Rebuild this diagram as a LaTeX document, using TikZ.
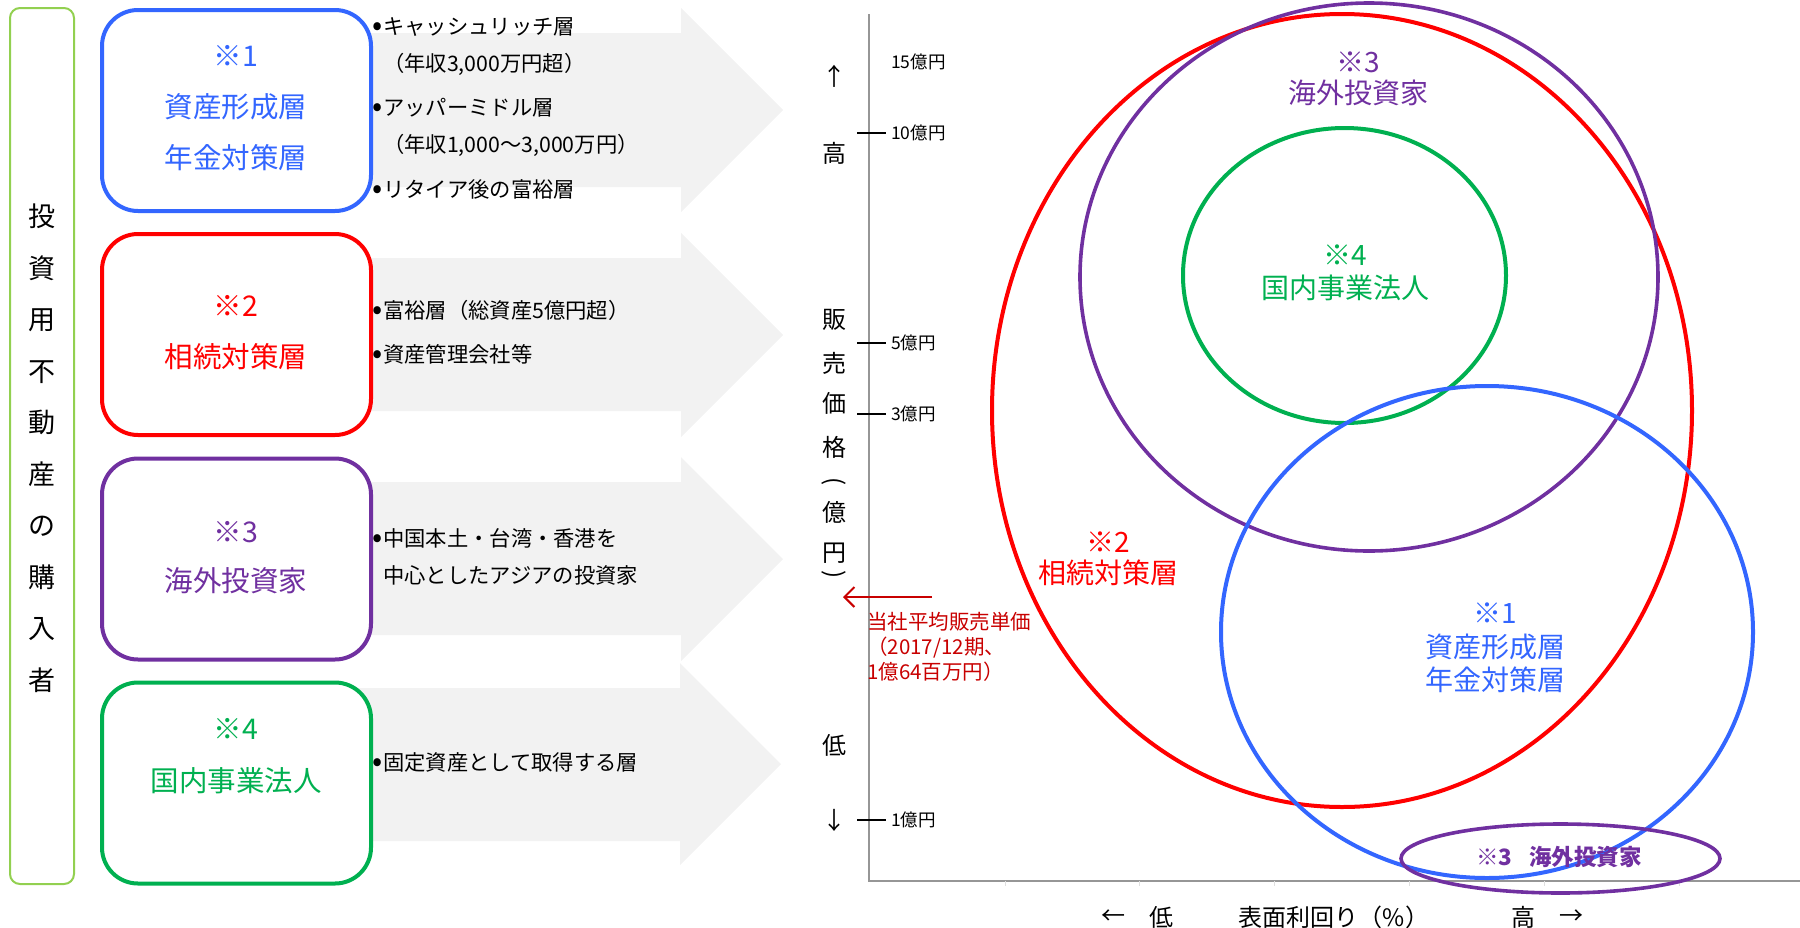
\documentclass[tikz,border=0pt]{standalone}
\usepackage{fontspec}
\setmainfont{Noto Sans CJK JP}
\usetikzlibrary{arrows.meta}
\definecolor{cblue}{RGB}{51,102,255}
\definecolor{cred}{RGB}{255,0,0}
\definecolor{cpurple}{RGB}{112,48,160}
\definecolor{cgreen}{RGB}{0,176,80}
\definecolor{lgreen}{RGB}{146,208,80}
\definecolor{dred}{RGB}{200,0,0}
\definecolor{agray}{RGB}{242,242,242}
\definecolor{axgray}{RGB}{150,150,150}
\newcommand{\setfs}[1]{\fontsize{#1}{#1}\selectfont}
\newcommand{\bul}{\makebox[11pt][c]{\setfs{30}\raisebox{-1pt}{•}}}
\newcommand{\vparen}[1]{\rotatebox[origin=c]{-90}{#1}}
\tikzset{
  catbox/.style={draw, line width=4pt, rounded corners=36pt, fill=white, minimum width=269pt, minimum height=201pt, inner sep=0pt},
  boxtxt/.style={inner sep=0pt, font=\setfs{28.5}},
  bultxt/.style={inner sep=0pt, anchor=west, font=\setfs{21.3}},
  charttxt/.style={inner sep=0pt, font=\setfs{28}},
  axtxt/.style={inner sep=0pt, font=\setfs{24}},
  ticktxt/.style={inner sep=0pt, anchor=west, font=\setfs{17.5}},
  tickmark/.style={line width=1.6pt, black},
  bigarrow/.style={fill=agray},
  ell/.style={line width=4pt},
}
\begin{document}
\begin{tikzpicture}[x=1pt,y=-1pt]
\useasboundingbox (0,0) rectangle (1800,927);

% left vertical label
\node[draw=lgreen, line width=2pt, rounded corners=10pt, minimum width=64pt, minimum height=876pt, inner sep=0pt] (side) at (42,446) {};
\node[inner sep=0pt, align=center, font=\fontsize{27}{51.5}\selectfont] (sidetxt) at (42,448) {投\\資\\用\\不\\動\\産\\の\\購\\入\\者};

% gray arrows
\fill[bigarrow] (236,33) -- (681,33) -- (681,8) -- (783,110) -- (681,212) -- (681,187) -- (236,187) -- cycle;
\fill[bigarrow] (236,258) -- (681,258) -- (681,233) -- (783,335) -- (681,437) -- (681,411) -- (236,411) -- cycle;
\fill[bigarrow] (236,482) -- (681,482) -- (681,457) -- (783,559) -- (681,661) -- (681,635) -- (236,635) -- cycle;
\fill[bigarrow] (236,688) -- (680,688) -- (680,663) -- (781,764) -- (680,865) -- (680,841) -- (236,841) -- cycle;

% category boxes
\node[catbox, draw=cblue] (b1) at (236.5,110.5) {};
\node[catbox, draw=cred] (b2) at (236.5,334.5) {};
\node[catbox, draw=cpurple] (b3) at (236.5,559) {};
\node[catbox, draw=cgreen] (b4) at (236.5,783) {};

\node[boxtxt, text=cblue] (b1a) at (236,56) {※1};
\node[boxtxt, text=cblue] (b1b) at (236,107) {資産形成層};
\node[boxtxt, text=cblue] (b1c) at (236,158) {年金対策層};
\node[boxtxt, text=cred] (b2a) at (236,306) {※2};
\node[boxtxt, text=cred] (b2b) at (236,357) {相続対策層};
\node[boxtxt, text=cpurple] (b3a) at (236,532) {※3};
\node[boxtxt, text=cpurple] (b3b) at (236,581) {海外投資家};
\node[boxtxt, text=cgreen] (b4a) at (236,729) {※4};
\node[boxtxt, text=cgreen] (b4b) at (236,781) {国内事業法人};

% bullet texts
\node[bultxt] (l1) at (372,27) {\bul キャッシュリッチ層};
\node[bultxt] (l2) at (383,64) {（年収3,000万円超）};
\node[bultxt] (l3) at (372,108) {\bul アッパーミドル層};
\node[bultxt] (l4) at (383,145) {（年収1,000～3,000万円）};
\node[bultxt] (l5) at (372,189) {\bul リタイア後の富裕層};
\node[bultxt] (l6) at (372,310) {\bul 富裕層（総資産5億円超）};
\node[bultxt] (l7) at (372,354) {\bul 資産管理会社等};
\node[bultxt] (l8) at (372,538) {\bul 中国本土・台湾・香港を};
\node[bultxt] (l9) at (383,575) {中心としたアジアの投資家};
\node[bultxt] (l10) at (372,762) {\bul 固定資産として取得する層};

% axes
\draw[axgray, line width=1.2pt] (869,14) -- (869,881);
\draw[axgray, line width=1.8pt] (868,881) -- (1800,881);
\foreach \xx in {1005,1139,1274,1409,1544,1679} \draw[gray!25, line width=1pt] (\xx,881) -- (\xx,886);
\draw[tickmark] (857,133) -- (886,133);
\draw[tickmark] (857,343) -- (886,343);
\draw[tickmark] (857,414) -- (886,414);
\draw[tickmark] (857,820) -- (886,820);
\node[ticktxt] (t15) at (891,62) {15億円};
\node[ticktxt] (t10) at (891,133) {10億円};
\node[ticktxt] (t5) at (891,343) {5億円};
\node[ticktxt] (t3) at (891,414) {3億円};
\node[ticktxt] (t1) at (891,820) {1億円};

\node[axtxt] (yup) at (834,76) {↑};
\node[axtxt] (yhi) at (834,153) {高};
\node[axtxt] (y1) at (834,320) {販};
\node[axtxt] (y2) at (834,363) {売};
\node[axtxt] (y3) at (834,403) {価};
\node[axtxt] (y4) at (834,447) {格};
\node[axtxt] (y5) at (834,483) {\vparen{(}};
\node[axtxt] (y6) at (834,512) {億};
\node[axtxt] (y7) at (834,553) {円};
\node[axtxt] (y8) at (834,576) {\vparen{)}};
\node[axtxt] (ylo) at (834,745) {低};
\node[axtxt] (ydn) at (834,820) {↓};

\node[axtxt] (xl1) at (1113,917) {←};
\node[axtxt] (xl2) at (1161,917) {低};
\node[axtxt] (xl3) at (1334,917) {表面利回り（\%）};
\node[axtxt] (xl4) at (1523,917) {高};
\node[axtxt] (xl5) at (1571,917) {→};

% average price arrow
\coordinate (avgs) at (932,597);
\coordinate (avge) at (843,597);
\draw[dred, line width=2pt, -{Straight Barb[length=10pt,width=20pt,line width=2pt]}] (avgs) -- (avge);
\node[inner sep=0pt, anchor=west, align=left, text=dred, font=\fontsize{20.5}{25}\selectfont] (avgtxt) at (867,647) {当社平均販売単価\\（2017/12期、\\1億64百万円）};

% ellipses
\draw[ell, cred] (1342,410.5) ellipse [x radius=350pt, y radius=396.5pt];
\draw[ell, cpurple, line width=3.6pt] (1369,277) ellipse [x radius=289pt, y radius=274pt];
\draw[ell, cgreen] (1344.5,275.5) ellipse [x radius=161.5pt, y radius=147.5pt];
\draw[ell, cblue] (1487,632) ellipse [x radius=266pt, y radius=246pt];
\draw[ell, cpurple, line width=3.6pt] (1560.5,858.5) ellipse [x radius=159.5pt, y radius=34.5pt];

% chart labels
\node[charttxt, text=cpurple] (c3a) at (1358,62) {※3};
\node[charttxt, text=cpurple] (c3b) at (1358,93) {海外投資家};
\node[charttxt, text=cgreen] (c4a) at (1345,255) {※4};
\node[charttxt, text=cgreen] (c4b) at (1345,288) {国内事業法人};
\node[charttxt, text=cred] (c2a) at (1108,542) {※2};
\node[charttxt, text=cred] (c2b) at (1108,573) {相続対策層};
\node[charttxt, text=cblue] (c1a) at (1495,613) {※1};
\node[charttxt, text=cblue] (c1b) at (1495,647) {資産形成層};
\node[charttxt, text=cblue] (c1c) at (1495,680) {年金対策層};
\node[inner sep=0pt, text=cpurple, font=\setfs{22.5}\bfseries] (c3s) at (1559,857) {※3\hspace{17pt}海外投資家};
\end{tikzpicture}
\end{document}
